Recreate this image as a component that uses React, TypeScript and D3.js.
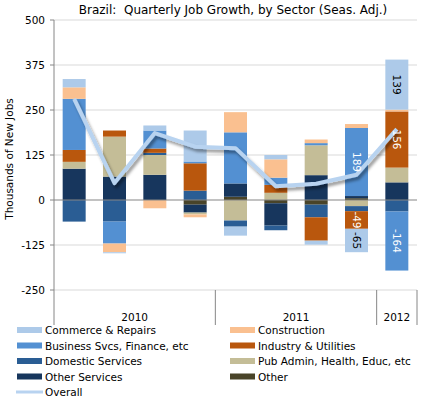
import React from "react";
import * as d3 from "d3";

const quarters = ["2010Q1", "2010Q2", "2010Q3", "2010Q4", "2011Q1", "2011Q2", "2011Q3", "2011Q4", "2012Q1"];
const years = ["2010", "2011", "2012"];
const yearOf = ["2010", "2010", "2010", "2010", "2011", "2011", "2011", "2011", "2012"];
const yTicks = [500, 375, 250, 125, 0, -125, -250];

const commerce = [23, -3, 14, 86, -25, 12, -11, -65, 139];
const construction = [32, -24, -23, -8, 56, 51, 10, 11, 5];
const business = [142, -61, 50, 5, 142, 20, 6, 189, -164];
const industry = [33, 17, 12, 76, 0, 22, -65, -49, 156];
const domestic = [-60, -60, 6, 26, -17, -13, -35, -14, -32];
const pubAdmin = [19, 111, 55, -5, -57, 20, 83, -17, 41];
const otherServices = [87, 65, 70, -22, 37, -62, 69, 6, 49];
const other = [0, 0, 0, -13, 9, -9, -13, 5, 0];
const overall = [281, 47, 186, 148, 144, 38, 45, 70, 197];

// labelled segments: [seriesKey, quarterIndex]
const labelled: [string, number][] = [
  ["business", 7], ["industry", 7], ["commerce", 7],
  ["commerce", 8], ["industry", 8], ["business", 8],
];

const series = [
  { key: "other", name: "Other", values: other, color: "#494429", dark: true },
  { key: "otherServices", name: "Other Services", values: otherServices, color: "#17365d", dark: true },
  { key: "pubAdmin", name: "Pub Admin, Health, Educ, etc", values: pubAdmin, color: "#c4bd97", dark: false },
  { key: "domestic", name: "Domestic Services", values: domestic, color: "#2a5d94", dark: true },
  { key: "industry", name: "Industry & Utilities", values: industry, color: "#b9570d", dark: true },
  { key: "business", name: "Business Svcs, Finance, etc", values: business, color: "#5390d2", dark: true },
  { key: "construction", name: "Construction", values: construction, color: "#fac090", dark: false },
  { key: "commerce", name: "Commerce & Repairs", values: commerce, color: "#adcae9", dark: false },
];

const legendOrder = ["commerce", "construction", "business", "industry", "domestic", "pubAdmin", "otherServices", "other"];

const FONT = "'DejaVu Sans', Verdana, sans-serif";

export default function App() {
  const W = 424, H = 404;
  const x0 = 54, x1 = 417, yTop = 20, yBot = 290;
  const x = d3.scaleBand<string>().domain(quarters).range([x0, x1]).paddingInner(0.43).paddingOuter(0.215);
  const y = d3.scaleLinear().domain([-250, 500]).range([yBot, yTop]);

  const table = quarters.map((q, i) => {
    const row: any = { q };
    series.forEach((s) => (row[s.key] = s.values[i]));
    return row;
  });
  const stacked = d3.stack<any>().keys(series.map((s) => s.key)).offset(d3.stackOffsetDiverging)(table);

  const line = d3.line<number>()
    .x((_, i) => (x(quarters[i]) as number) + x.bandwidth() / 2)
    .y((d) => y(d));

  const yearExtent = years.map((yr) => {
    const qs = quarters.filter((_, i) => yearOf[i] === yr);
    const a = x(qs[0]) as number - x.step() * x.paddingInner() / 2;
    const b = (x(qs[qs.length - 1]) as number) + x.bandwidth() + x.step() * x.paddingInner() / 2;
    return { yr, a, b };
  });
  const seps = [x0, ...yearExtent.map((e) => Math.min(e.b, x1))];

  const legendItems = legendOrder.map((k) => series.find((s) => s.key === k)!);

  return (
    <svg width={W} height={H} style={{ position: "absolute", left: 0, top: 0, background: "#fff" }} fontFamily={FONT}>
      <defs>
        <filter id="shadow" x="-10%" y="-10%" width="130%" height="140%">
          <feDropShadow dx="2" dy="3" stdDeviation="1.8" floodColor="#000" floodOpacity="0.4" />
        </filter>
      </defs>
      <text x={233} y={14} textAnchor="middle" fontSize={12} fill="#000" style={{ whiteSpace: "pre" }}>
        {"Brazil:  Quarterly Job Growth, by Sector (Seas. Adj.)"}
      </text>
      {/* gridlines */}
      {yTicks.filter((t) => t !== 0).map((t) => (
        <line key={t} x1={x0} x2={x1} y1={y(t)} y2={y(t)} stroke="#d9d9d9" strokeWidth={1} />
      ))}
      {/* y axis ticks & labels */}
      {yTicks.map((t) => (
        <g key={"t" + t}>
          <line x1={x0 - 4} x2={x0} y1={y(t)} y2={y(t)} stroke="#868686" />
          <text x={45} y={y(t) + 3.5} textAnchor="end" fontSize={10.5} fill="#000">{t}</text>
        </g>
      ))}
      <text transform={`translate(13,159) rotate(-90)`} textAnchor="middle" fontSize={10.5} fill="#000">
        Thousands of New Jobs
      </text>
      {/* bars */}
      {stacked.map((layer) => {
        const s = series.find((ss) => ss.key === layer.key)!;
        return (
          <g key={layer.key}>
            {layer.map((d, i) => {
              const top = y(Math.max(d[0], d[1]));
              const bot = y(Math.min(d[0], d[1]));
              return (
                <rect key={i} x={x(quarters[i])} width={x.bandwidth()} y={top} height={Math.max(0, bot - top)} fill={s.color} />
              );
            })}
          </g>
        );
      })}
      {/* zero line */}
      <line x1={x0} x2={x1} y1={y(0)} y2={y(0)} stroke="#868686" strokeWidth={1.2} />
      {/* y axis line and separators */}
      {seps.map((sx, i) => (
        <line key={"s" + i} x1={sx} x2={sx} y1={i === 0 ? yTop : yBot} y2={325} stroke="#868686" strokeWidth={1} />
      ))}
      {yearExtent.map((e) => (
        <text key={e.yr} x={(e.a + Math.min(e.b, x1)) / 2} y={321} textAnchor="middle" fontSize={10.5} fill="#000">{e.yr}</text>
      ))}
      {/* overall line */}
      <path d={line(overall) || ""} fill="none" stroke="#b8d3f0" strokeWidth={4} strokeLinejoin="round" filter="url(#shadow)" />
      {/* data labels */}
      {labelled.map(([k, i]) => {
        const layer = stacked.find((l) => l.key === k)!;
        const s = series.find((ss) => ss.key === k)!;
        const d = layer[i];
        const cy = (y(d[0]) + y(d[1])) / 2;
        const cx = (x(quarters[i]) as number) + x.bandwidth() / 2;
        return (
          <text key={k + i} transform={`translate(${cx - 3.5},${cy}) rotate(90)`} textAnchor="middle" fontSize={10.5}
            fill={s.dark ? "#fff" : "#000"}>
            {s.values[i]}
          </text>
        );
      })}
      {/* legend */}
      {legendItems.map((s, i) => {
        const col = i % 2, row = Math.floor(i / 2);
        const lx = col === 0 ? 17 : 230;
        const ly = 330 + row * 15.5;
        return (
          <g key={s.key}>
            <rect x={lx} y={ly - 3} width={25} height={6} fill={s.color} />
            <text x={lx + 28} y={ly + 4} fontSize={10.5} fill="#000">{s.name}</text>
          </g>
        );
      })}
      <g>
        <line x1={16} x2={43} y1={392} y2={392} stroke="#b8d3f0" strokeWidth={3} />
        <text x={45} y={396} fontSize={10.5} fill="#000">Overall</text>
      </g>
    </svg>
  );
}
